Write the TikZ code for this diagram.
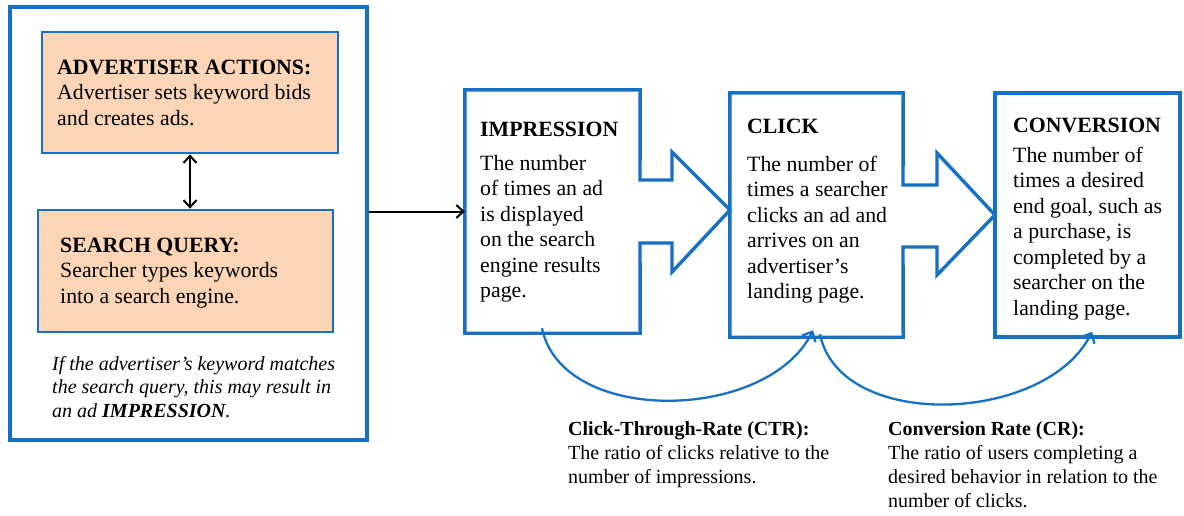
\documentclass[tikz,border=0pt]{standalone}
\usepackage{fontspec}
\setmainfont{Liberation Serif}
\usetikzlibrary{arrows.meta}
\definecolor{bl}{RGB}{22,112,196}
\definecolor{peach}{RGB}{251,213,182}
\begin{document}
\begin{tikzpicture}[x=1pt,y=-1pt,
  frame/.style={draw=bl,line width=3.4pt,line join=miter},
  hold/.style={draw=none,inner sep=0pt},
  pbox/.style={draw=bl,fill=peach,line width=2.8pt},
  txt/.style={anchor=base west,inner sep=0pt,align=left,font=\fontsize{21.8}{25.5}\selectfont},
  ttl/.style={anchor=base west,inner sep=0pt,font=\fontsize{21.8}{25.5}\selectfont\bfseries},
  itx/.style={anchor=base west,inner sep=0pt,align=left,font=\fontsize{20}{23.5}\selectfont\itshape},
  lbl/.style={anchor=base west,inner sep=0pt,align=left,font=\fontsize{20}{24}\selectfont},
  blk/.style={draw=black,line width=2pt,-{Straight Barb[length=7pt,width=13pt]}},
  blk2/.style={draw=black,line width=2pt,{Straight Barb[length=7pt,width=13pt]}-{Straight Barb[length=7pt,width=13pt]}},
  crv/.style={draw=bl,line width=2.3pt,-{Straight Barb[length=8pt,width=15pt]}}]
\fill[white] (0,0) rectangle (1184,515);
\useasboundingbox (0,0) rectangle (1184,515);

% left panel
\node[frame,minimum width=357pt,minimum height=433pt] (outer) at (188.5,223.5) {};
\node[pbox,minimum width=296pt,minimum height=121pt] (adv) at (190,92.5) {};
\node[pbox,minimum width=295pt,minimum height=122pt] (sq) at (185.5,271) {};
% multi-line nodes: base anchor = baseline of last line
\node[txt] (advt) at (57,125) {\textbf{ADVERTISER ACTIONS:}\\Advertiser sets keyword bids\\and creates ads.};
\node[txt] (sqt) at (60,303) {\textbf{SEARCH QUERY:}\\Searcher types keywords\\into a search engine.};
\node[itx] (note) at (52,417) {If the advertiser’s keyword matches\\the search query, this may result in\\an ad \textbf{IMPRESSION}.};
\draw[blk2] (adv.south) -- (adv.south |- sq.north);

% stage boxes
\node[hold,minimum width=175pt,minimum height=243pt] (imp) at (552.5,211.5) {};
\node[hold,minimum width=173pt,minimum height=244pt] (click) at (816.5,215) {};
\node[frame,minimum width=185pt,minimum height=244pt] (conv) at (1087.5,215) {};

\draw[frame] (imp.north west) -- (imp.north east) -- (640,180) -- (672,180) -- (672,152)
  -- (730,210) -- (672,272) -- (672,243) -- (640,243) -- (imp.south east) -- (imp.south west) -- cycle;
\draw[frame] (click.north west) -- (click.north east) -- (903,185) -- (937,185) -- (937,153)
  -- (995,215) -- (937,275) -- (937,247) -- (903,247) -- (click.south east) -- (click.south west) -- cycle;

\node[ttl] (impt) at (480,136) {IMPRESSION};
\node[txt] (impb) at (480,297.5) {The number\\of times an ad\\is displayed\\on the search\\engine results\\page.};
\node[ttl] (clickt) at (747,133) {CLICK};
\node[txt] (clickb) at (747,298.5) {The number of\\times a searcher\\clicks an ad and\\arrives on an\\advertiser’s\\landing page.};
\node[ttl] (convt) at (1013,132) {CONVERSION};
\node[txt] (convb) at (1013,315) {The number of\\times a desired\\end goal, such as\\a purchase, is\\completed by a\\searcher on the\\landing page.};

% connectors
\draw[blk] (outer.east |- imp.west) -- (imp.west);
\draw[crv] ([xshift=-10.5pt,yshift=5pt]imp.south) .. controls +(20,98) and +(-45,92) .. ([xshift=-3.5pt,yshift=7pt]click.south);
\draw[crv] ([xshift=3.5pt,yshift=3pt]click.south) .. controls +(20,98) and +(-45,92) .. ([xshift=4.5pt,yshift=7pt]conv.south);

% labels
\node[lbl] (ctr) at (568,483) {\textbf{Click-Through-Rate (CTR):}\\The ratio of clicks relative to the\\number of impressions.};
\node[lbl] (cr) at (888,507) {\textbf{Conversion Rate (CR):}\\The ratio of users completing a\\desired behavior in relation to the\\number of clicks.};
\end{tikzpicture}
\end{document}
